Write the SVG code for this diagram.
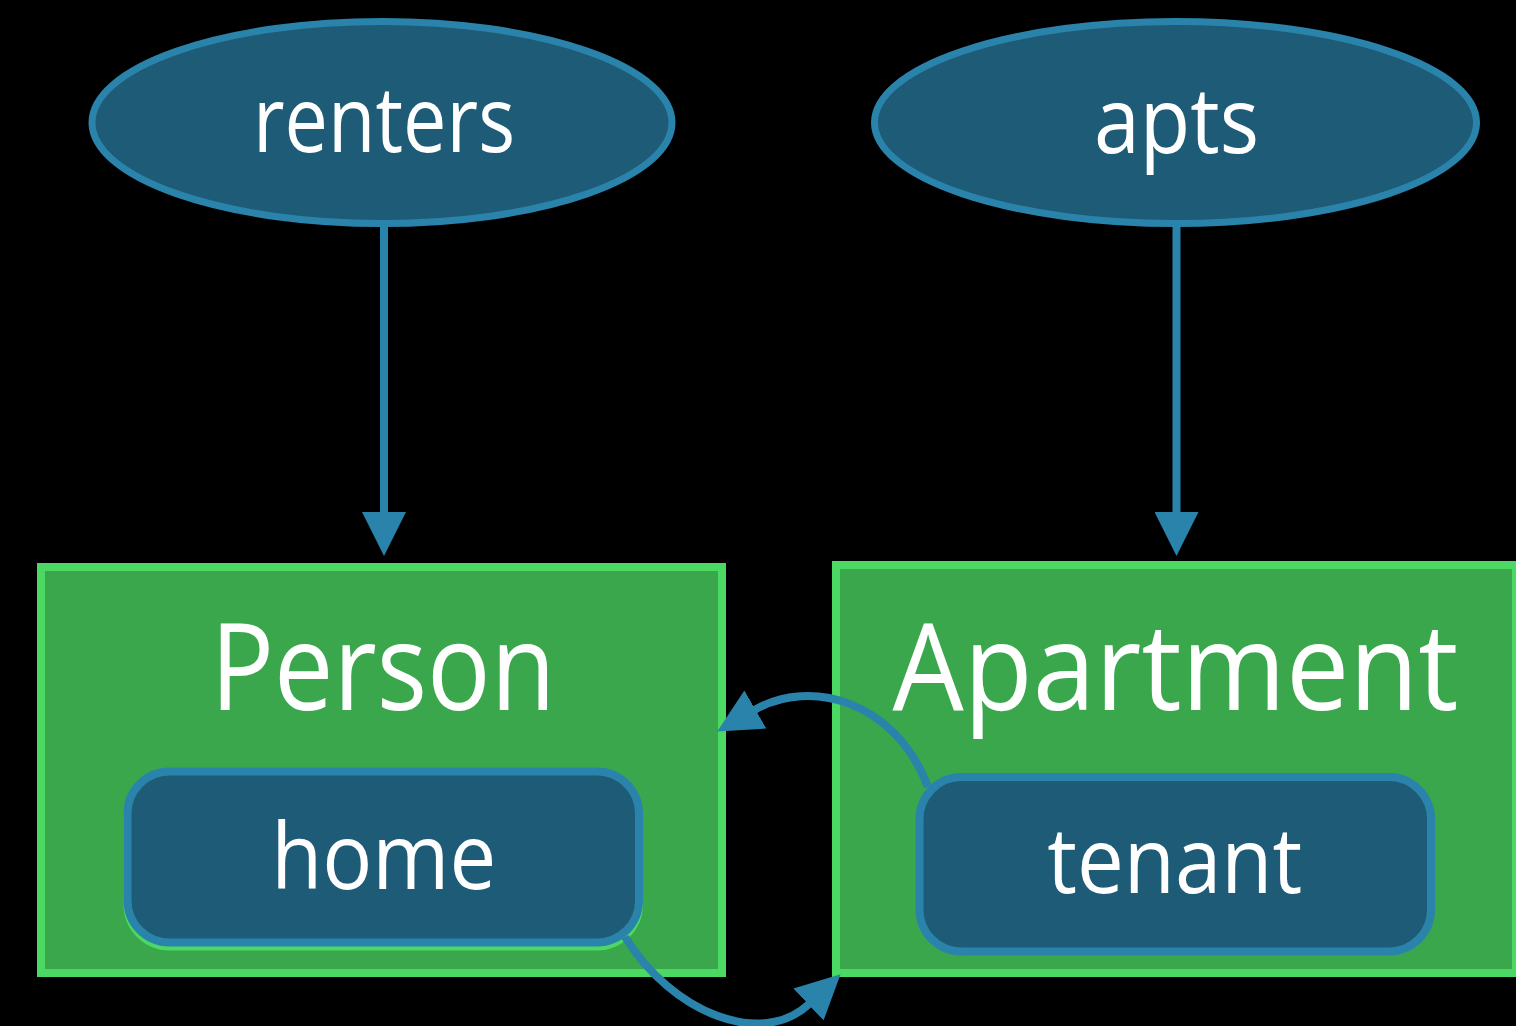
<svg xmlns="http://www.w3.org/2000/svg" width="1516" height="1026" viewBox="0 0 1516 1026">
  <style>
    .bg { fill: #000000; }
    .coll { fill: #1d5b76; stroke: #2a83ab; stroke-width: 7; }
    .entity { fill: #3aa74d; stroke: #4bd863; stroke-width: 8; }
    .prop { fill: #1d5b76; stroke: #2a83ab; stroke-width: 8; }
    .prop-edge { fill: none; stroke: #4bd863; stroke-width: 8; }
    .label { fill: #ffffff; font-family: "Open Sans", "Noto Sans", sans-serif; text-anchor: middle; }
    .small { font-size: 92px; }
    .big { font-size: 121px; }
    .link { fill: none; stroke: #2a83ab; stroke-width: 8; }
  </style>
  <defs>
    <marker id="head" markerUnits="userSpaceOnUse" viewBox="0 -22 44 44" refX="1" refY="0" markerWidth="44" markerHeight="44" orient="auto">
      <path d="M0,-22 L44,0 L0,22 Z" fill="#2a83ab"/>
    </marker>
  </defs>

  <rect class="bg" x="0" y="0" width="1516" height="1026"/>

  <!-- collections -->
  <g id="renters">
    <ellipse class="coll" cx="382" cy="122.5" rx="290" ry="101"/>
    <text class="label small" x="384" y="152" textLength="262" lengthAdjust="spacingAndGlyphs">renters</text>
  </g>
  <g id="apts">
    <ellipse class="coll" cx="1175.5" cy="122.5" rx="301" ry="101"/>
    <text class="label small" x="1176.5" y="152.5" textLength="165" lengthAdjust="spacingAndGlyphs">apts</text>
  </g>

  <!-- entities -->
  <g id="person">
    <rect class="entity" x="41" y="567" width="681" height="406"/>
    <text class="label big" x="383" y="709.5" textLength="345" lengthAdjust="spacingAndGlyphs">Person</text>
  </g>
  <g id="apartment">
    <rect class="entity" x="836" y="565" width="680" height="408"/>
    <text class="label big" x="1175.5" y="709.5" textLength="566" lengthAdjust="spacingAndGlyphs">Apartment</text>
  </g>

  <!-- properties -->
  <g id="home">
    <rect class="prop-edge" x="127.5" y="775.5" width="511.5" height="171" rx="42"/>
    <rect class="prop" x="127.5" y="771.5" width="511.5" height="171" rx="42"/>
    <text class="label small" x="383.7" y="888.5" textLength="225" lengthAdjust="spacingAndGlyphs">home</text>
  </g>
  <g id="tenant">
    <rect class="prop" x="919.5" y="777" width="511.5" height="174.5" rx="42"/>
    <text class="label small" x="1174.7" y="892.5" textLength="255" lengthAdjust="spacingAndGlyphs">tenant</text>
  </g>

  <!-- connectors -->
  <g id="connectors">
    <path class="link" d="M384 226 V513" marker-end="url(#head)"/>
    <path class="link" d="M1176.5 226 V513" marker-end="url(#head)"/>
    <path class="link" d="M928 787 C895 700 810 678 754.5 710" marker-end="url(#head)"/>
    <path class="link" d="M625 937 C672.7 1013.5 761.6 1048.5 809.2 1003.8" marker-end="url(#head)"/>
  </g>
</svg>
